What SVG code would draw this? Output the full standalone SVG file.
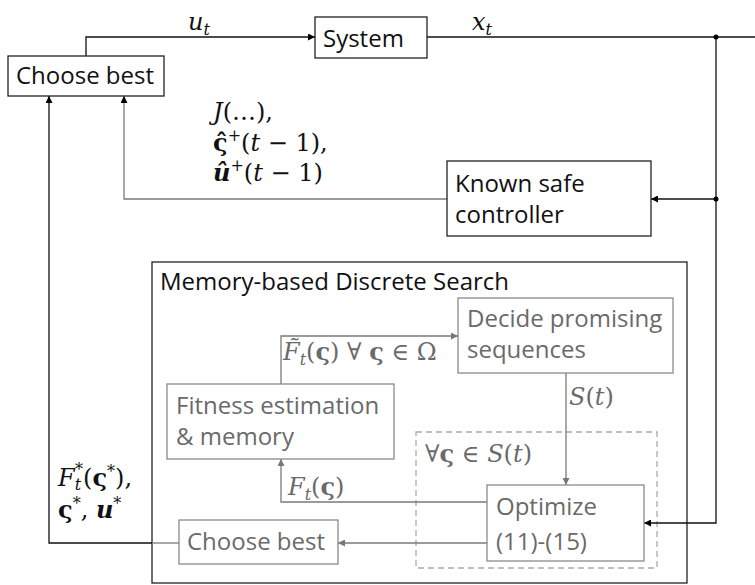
<svg xmlns="http://www.w3.org/2000/svg" width="755" height="585" viewBox="0 0 755 585">
<defs>
<marker id="ab" viewBox="0 0 10 10" refX="10" refY="5" markerWidth="7" markerHeight="7" markerUnits="userSpaceOnUse" orient="auto"><path d="M0,0 L10,5 L0,10 z" fill="#000"/></marker>
<marker id="ag" viewBox="0 0 10 10" refX="10" refY="5" markerWidth="7" markerHeight="7" markerUnits="userSpaceOnUse" orient="auto"><path d="M0,0 L10,5 L0,10 z" fill="#777"/></marker>
</defs>
<style>
.bk{fill:#fff;stroke:#222;stroke-width:1.3}
.bg{fill:#fff;stroke:#8a8a8a;stroke-width:1.3}
.t{font-family:"Open Sans","Liberation Sans",sans-serif;font-size:24px;fill:#111}
.tg{font-family:"Open Sans","Liberation Sans",sans-serif;font-size:24px;fill:#6a6a6a}
.m{font-family:"DejaVu Serif","Liberation Serif",serif;font-size:24px;fill:#111}
.mg{font-family:"DejaVu Serif","Liberation Serif",serif;font-size:24px;fill:#6a6a6a}
.lk{fill:none;stroke:#111;stroke-width:1.3}
.lg{fill:none;stroke:#7a7a7a;stroke-width:1.3}
.i{font-style:italic}
.b{font-weight:bold}
.s{font-size:16px}
</style>
<rect width="755" height="585" fill="#fff"/>

<g id="memory-search">
<rect x="152" y="262" width="535" height="321" fill="#fff" stroke="#222" stroke-width="1.3"/>
<text class="t" x="160" y="290">Memory-based Discrete Search</text>
</g>
<g id="loop-region">
<rect x="416" y="432" width="241" height="136" fill="none" stroke="#aaa" stroke-width="1.3" stroke-dasharray="6,4"/>
<text class="mg" x="425" y="462">∀<tspan class="b">ς</tspan> ∈ <tspan class="i">S</tspan>(<tspan class="i">t</tspan>)</text>
</g>

<g id="connectors">
<path class="lk" d="M86,56 V37 H315" marker-end="url(#ab)"/>
<path class="lk" d="M427,37 H755"/>
<path class="lk" d="M716,37 V523 H644" marker-end="url(#ab)"/>
<path class="lk" d="M716,199 H651" marker-end="url(#ab)"/>
<path class="lg" d="M447,199 H124 V96" marker-end="url(#ab)"/>
<path class="lk" d="M152,543 H49 V96" marker-end="url(#ab)"/>
<path class="lg" d="M179,543 H152"/>
<path class="lg" d="M281,384 V336 H458" marker-end="url(#ag)"/>
<path class="lg" d="M566,373 V485" marker-end="url(#ag)"/>
<path class="lg" d="M487,502 H281 V459" marker-end="url(#ag)"/>
<path class="lg" d="M487,543 H338" marker-end="url(#ag)"/>
<circle cx="716" cy="37" r="2.5" fill="#000"/>
<circle cx="716" cy="199" r="2.5" fill="#000"/>
</g>

<g id="labels">
<text class="m" x="188" y="30"><tspan class="i">u</tspan><tspan class="i s" dy="5">t</tspan></text>
<text class="m" x="472" y="30"><tspan class="i">x</tspan><tspan class="i s" dy="5">t</tspan></text>
<text class="m" x="213" y="120"><tspan class="i">J</tspan>(…),</text>
<text class="m" x="213" y="151"><tspan class="b">ς̂</tspan><tspan class="s" dy="-10">+</tspan><tspan dy="10">(</tspan><tspan class="i">t</tspan> − 1),</text>
<text class="m" x="213" y="181"><tspan class="b i">û</tspan><tspan class="s" dy="-10">+</tspan><tspan dy="10">(</tspan><tspan class="i">t</tspan> − 1)</text>
<text class="mg" x="283" y="360"><tspan class="i">F̃</tspan><tspan class="i s" dy="5">t</tspan><tspan dy="-5">(</tspan><tspan class="b">ς</tspan>) ∀ <tspan class="b">ς</tspan> ∈ Ω</text>
<text class="mg" x="569" y="405"><tspan class="i">S</tspan>(<tspan class="i">t</tspan>)</text>
<text class="mg" x="288" y="495"><tspan class="i">F</tspan><tspan class="i s" dy="5">t</tspan><tspan dy="-5">(</tspan><tspan class="b">ς</tspan>)</text>
<text class="m" x="58" y="486"><tspan class="i">F</tspan><tspan class="i s" dy="4">t</tspan><tspan class="s" dx="-6" dy="-15">*</tspan><tspan dy="11">(</tspan><tspan class="b">ς</tspan><tspan class="s" dy="-9">*</tspan><tspan dy="9">),</tspan></text>
<text class="m" x="58" y="518"><tspan class="b">ς</tspan><tspan class="s" dy="-9">*</tspan><tspan dy="9">, </tspan><tspan class="b i">u</tspan><tspan class="s" dy="-9">*</tspan></text>
</g>

<g id="system">
<rect class="bk" x="315" y="17" width="112" height="41"/>
<text class="t" x="323" y="47">System</text>
</g>
<g id="choose-best-top">
<rect class="bk" x="8" y="56" width="156" height="40"/>
<text class="t" x="16" y="84">Choose best</text>
</g>
<g id="known-safe-controller">
<rect class="bk" x="447" y="161" width="204" height="75"/>
<text class="t" x="455" y="192">Known safe</text>
<text class="t" x="455" y="223">controller</text>
</g>
<g id="decide-promising">
<rect class="bg" x="458" y="298" width="215" height="75"/>
<text class="tg" x="467" y="327">Decide promising</text>
<text class="tg" x="467" y="358">sequences</text>
</g>
<g id="fitness-estimation">
<rect class="bg" x="167" y="384" width="227" height="75"/>
<text class="tg" x="176" y="414">Fitness estimation</text>
<text class="tg" x="176" y="445">&amp; memory</text>
</g>
<g id="optimize">
<rect class="bg" x="487" y="485" width="157" height="76"/>
<text class="tg" x="496" y="515">Optimize</text>
<text class="tg" x="496" y="550">(11)-(15)</text>
</g>
<g id="choose-best-inner">
<rect class="bg" x="179" y="520" width="159" height="44"/>
<text class="tg" x="187" y="550">Choose best</text>
</g>
</svg>
